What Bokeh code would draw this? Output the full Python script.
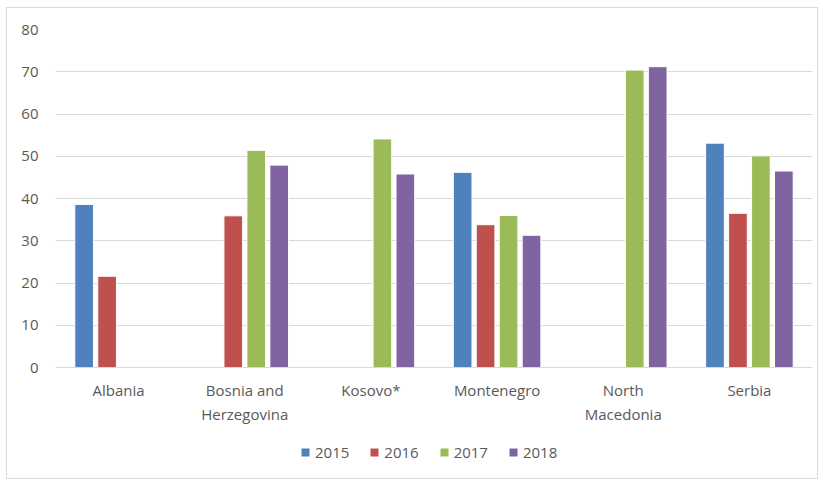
import numpy as np
from bokeh.plotting import figure
from bokeh.layouts import column
from bokeh.models import ColumnDataSource, FactorRange, Legend, LegendItem, Range1d, FixedTicker
from bokeh.transform import dodge
from bokeh.embed import file_html
from bokeh.resources import INLINE

countries = ["Albania", "Bosnia and\nHerzegovina", "Kosovo*", "Montenegro", "North\nMacedonia", "Serbia"]
years = ["2015", "2016", "2017", "2018"]
v2015 = [38.6, np.nan, np.nan, 46.2, np.nan, 53.1]
v2016 = [21.6, 35.9, np.nan, 33.8, np.nan, 36.5]
v2017 = [np.nan, 51.4, 54.1, 36.0, 70.4, 50.1]
v2018 = [np.nan, 47.9, 45.8, 31.3, 71.2, 46.5]
colors = ["#4F81BD", "#C0504D", "#9BBB59", "#8064A2"]
y_ticks = [0, 10, 20, 30, 40, 50, 60, 70, 80]

src = ColumnDataSource(dict(country=countries, y2015=v2015, y2016=v2016, y2017=v2017, y2018=v2018))

FONT = "Open Sans"
TXT = "#595959"
FS = "15px"

p = figure(width=810, height=425, x_range=FactorRange(factors=countries, range_padding=0),
           y_range=Range1d(0, 80), output_backend="svg", toolbar_location=None,
           min_border_left=48, min_border_right=5, min_border_top=21, min_border_bottom=66)
p.outline_line_color = None

pitch = 0.182
offsets = [-1.5 * pitch, -0.5 * pitch, 0.5 * pitch, 1.5 * pitch]
for yr, col, off in zip(years, colors, offsets):
    p.vbar(x=dodge("country", off, range=p.x_range), top="y" + yr, width=0.148, bottom=0,
           source=src, fill_color=col, line_color="white", line_width=1)

p.xgrid.grid_line_color = None
p.ygrid.grid_line_color = "#d9d9d9"
p.ygrid.grid_line_width = 1
p.yaxis.ticker = FixedTicker(ticks=y_ticks)

for ax in (p.xaxis[0], p.yaxis[0]):
    ax.major_tick_line_color = None
    ax.minor_tick_line_color = None
    ax.major_label_text_font = FONT
    ax.major_label_text_font_size = FS
    ax.major_label_text_color = TXT
p.yaxis.axis_line_color = None
p.yaxis.major_label_standoff = 11
p.xaxis.axis_line_color = "#d9d9d9"
p.xaxis.major_label_standoff = 6

# legend strip below the chart (same bars, scrolled out of view, only used as legend sources)
lf = figure(width=810, height=45, x_range=p.x_range, y_range=Range1d(500, 501),
            output_backend="svg", toolbar_location=None, x_axis_type=None, y_axis_type=None,
            min_border_left=0, min_border_right=0, min_border_top=0, min_border_bottom=0)
lf.outline_line_color = None
lf.grid.grid_line_color = None
items = []
for yr, col, off in zip(years, colors, offsets):
    r = lf.vbar(x=dodge("country", off, range=p.x_range), top="y" + yr, width=0.148, bottom=0,
                source=src, fill_color=col, line_color=None)
    items.append(LegendItem(label=yr, renderers=[r]))
legend = Legend(items=items, orientation="horizontal", location=(245, 16),
                label_text_font=FONT, label_text_font_size=FS, label_text_color=TXT,
                glyph_width=10, glyph_height=10, spacing=20, label_standoff=5,
                border_line_color=None, background_fill_alpha=0, margin=0, padding=0)
lf.add_layout(legend, "center")

layout = column(p, lf, spacing=0,
                styles={"border": "1px solid #d9d9d9", "margin-left": "6px", "margin-top": "7px"})

open("out.html", "w").write(file_html(layout, INLINE))
